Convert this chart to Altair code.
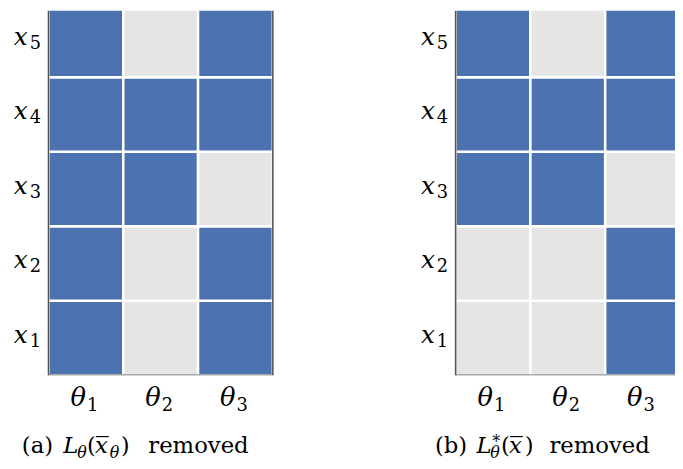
import altair as alt
import pandas as pd

# ---------------- data ----------------
row_ids = ["1", "2", "3", "4", "5"]          # x_1 .. x_5 (bottom to top)
col_ids = ["1", "2", "3"]                    # theta_1 .. theta_3
# 1 = kept (blue), 0 = removed (grey); rows listed from x_1 up to x_5
panel_a_vals = [[1, 0, 1],
                [1, 0, 1],
                [1, 1, 0],
                [1, 1, 1],
                [1, 0, 1]]
panel_b_vals = [[0, 0, 1],
                [0, 0, 1],
                [1, 1, 0],
                [1, 1, 1],
                [1, 0, 1]]
caption_a_text = ["(a)", "L", "θ", "(", "x", "θ", ")", "removed"]
caption_b_text = ["(b)", "L", "*", "θ", "(", "x", ")", "removed"]

# ---------------- layout / style ----------------
SERIF = "DejaVu Serif"
BLUE = "#4c72b0"
GREY = "#e5e5e5"
FRAME = "#555555"
PLOT_H = 369
ROW_PX = 75.4
COL_PX = 75.67
W_A = 227
GAP = 185
W_B = 222
TOTAL_W = W_A + GAP + W_B
YMAX = PLOT_H / ROW_PX
XMAX = TOTAL_W / COL_PX
ORIGIN_B = (W_A + GAP) / COL_PX
CAP_Y = 448
CAP_SIZE = 23
SUB_SIZE = 16
# per-segment caption layout: (dx, style, size, baseline shift)
cap_a_layout = [(-27, "normal", CAP_SIZE, 0), (15, "italic", CAP_SIZE, 0),
                (29, "italic", SUB_SIZE, 5), (39, "normal", CAP_SIZE, 0),
                (47, "italic", CAP_SIZE, 0), (62, "italic", SUB_SIZE, 5),
                (73, "normal", CAP_SIZE, 0), (101, "normal", CAP_SIZE, 0)]
cap_b_layout = [(-21, "normal", CAP_SIZE, 0), (21, "italic", CAP_SIZE, 0),
                (37, "normal", SUB_SIZE, -6), (35, "italic", SUB_SIZE, 5),
                (46, "normal", CAP_SIZE, 0), (54, "italic", CAP_SIZE, 0),
                (70, "normal", CAP_SIZE, 0), (95, "normal", CAP_SIZE, 0)]
# overline over x in each caption: (dx start, dx end)
bar_a = (48, 61)
bar_b = (55, 68)

panels = [(0.0, panel_a_vals), (ORIGIN_B, panel_b_vals)]

cell_recs = []
for origin, vals in panels:
    for i in range(len(row_ids)):
        for j in range(len(col_ids)):
            cell_recs.append({"x0": origin + j, "x1": origin + j + 1,
                              "y0": i, "y1": i + 1, "v": vals[i][j]})
cells = pd.DataFrame(cell_recs)

xs = alt.Scale(domain=[0, XMAX], nice=False, zero=False)
ys = alt.Scale(domain=[0, YMAX], nice=False, zero=False)

rect = alt.Chart(cells).mark_rect(stroke="white", strokeWidth=2.5, clip=True).encode(
    x=alt.X("x0:Q", scale=xs, axis=None),
    x2="x1",
    y=alt.Y("y0:Q", scale=ys, axis=None),
    y2="y1",
    color=alt.Color("v:N", scale=alt.Scale(domain=[0, 1], range=[GREY, BLUE]), legend=None),
)

frame_v = alt.Chart(pd.DataFrame({"fx": [0.0, float(len(col_ids)), ORIGIN_B]})).mark_rule(
    color=FRAME, strokeWidth=1.6
).encode(x=alt.X("fx:Q", axis=None))
frame_h = alt.Chart(pd.DataFrame({"fx": [0.0, ORIGIN_B],
                                  "fx2": [float(len(col_ids)), XMAX],
                                  "fy": [0.0, 0.0]})).mark_rule(
    color=FRAME, strokeWidth=1.6, clip=True
).encode(x=alt.X("fx:Q", axis=None), x2="fx2", y=alt.Y("fy:Q", axis=None))

layers = [rect, frame_v, frame_h]

for (origin, _), texts, layout, bar in [
        (panels[0], caption_a_text, cap_a_layout, bar_a),
        (panels[1], caption_b_text, cap_b_layout, bar_b)]:
    ylab = pd.DataFrame([{"px": origin, "yc": i + 0.5, "t": "x", "s": r}
                         for i, r in enumerate(row_ids)])
    layers.append(alt.Chart(ylab).mark_text(
        align="right", baseline="alphabetic", font=SERIF, fontStyle="italic",
        fontSize=25, dx=-21, dy=5
    ).encode(x=alt.X("px:Q", axis=None), y=alt.Y("yc:Q", axis=None), text="t:N"))
    layers.append(alt.Chart(ylab).mark_text(
        align="left", baseline="alphabetic", font=SERIF, fontSize=18, dx=-19, dy=9
    ).encode(x=alt.X("px:Q", axis=None), y=alt.Y("yc:Q", axis=None), text="s:N"))

    xlab = pd.DataFrame([{"xc": origin + j + 0.5, "t": "θ", "s": c}
                         for j, c in enumerate(col_ids)])
    layers.append(alt.Chart(xlab).mark_text(
        align="right", baseline="alphabetic", font=SERIF, fontStyle="italic",
        fontSize=26, y=PLOT_H + 31
    ).encode(x=alt.X("xc:Q", axis=None), text="t:N"))
    layers.append(alt.Chart(xlab).mark_text(
        align="left", baseline="alphabetic", font=SERIF, fontSize=18,
        y=PLOT_H + 36, dx=1
    ).encode(x=alt.X("xc:Q", axis=None), text="s:N"))

    for txt, (dx, style, size, shift) in zip(texts, layout):
        layers.append(
            alt.Chart(pd.DataFrame({"px": [origin], "t": [txt]})).mark_text(
                align="left", baseline="alphabetic", font=SERIF, fontStyle=style,
                fontSize=size, dx=dx, y=CAP_Y + shift
            ).encode(x=alt.X("px:Q", axis=None), text="t:N")
        )
    layers.append(
        alt.Chart(pd.DataFrame({"px": [origin]})).mark_rule(
            color="black", strokeWidth=1.2, xOffset=bar[0], x2Offset=bar[1]
        ).encode(x=alt.X("px:Q", axis=None), x2="px", y=alt.value(CAP_Y - 17))
    )

chart = alt.layer(*layers).properties(
    width=TOTAL_W,
    height=PLOT_H,
    padding={"left": 41, "top": 0, "right": 0, "bottom": 84},
    autosize=alt.AutoSizeParams(type="none"),
).configure_view(strokeWidth=0)

chart.save("out.html", embed_options={"renderer": "svg", "actions": False})
